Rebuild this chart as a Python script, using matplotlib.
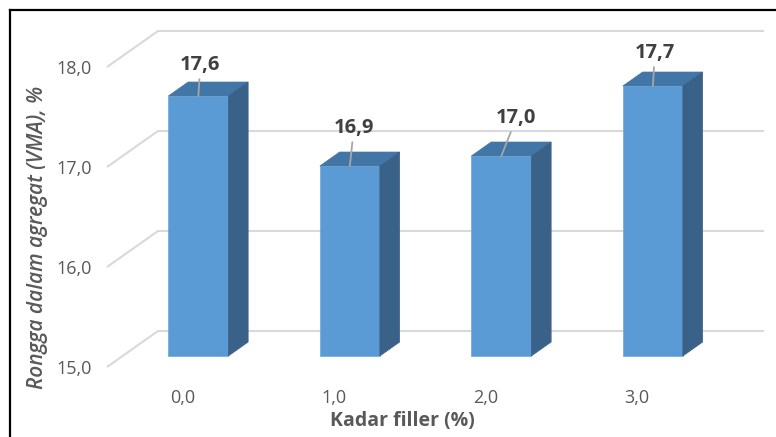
import matplotlib
matplotlib.use("Agg")
import matplotlib.pyplot as plt
from matplotlib.patches import Polygon
from matplotlib.lines import Line2D

# ---- data ----
categories = ["0,0", "1,0", "2,0", "3,0"]
values = [17.6, 16.9, 17.0, 17.7]
value_labels = ["17,6", "16,9", "17,0", "17,7"]
yticks = [15.0, 16.0, 17.0, 18.0]
ytick_labels = ["15,0", "16,0", "17,0", "18,0"]
xlabel = "Kadar filler (%)"
ylabel = "Rongga dalam agregat (VMA), %"

# ---- layout ----
W, H = 776, 437
plt.rcParams['font.family'] = ['Open Sans', 'DejaVu Sans']
fig = plt.figure(figsize=(W / 100, H / 100), dpi=100)

ax_left, ax_right, ax_bottom, ax_top = 107, 764, 367, 31   # pixels
ax = fig.add_axes([ax_left / W, 1 - ax_bottom / H,
                   (ax_right - ax_left) / W, (ax_bottom - ax_top) / H])

ymin = yticks[0]
DX, DY = 0.3366, 0.36          # full depth offset (data units)
f0, f1 = 0.306, 0.694          # bar front/back depth fractions
bar_w = 0.396
n = len(categories)
ax.set_xlim(-0.5, n - 0.5 + DX)
ax.set_ylim(ymin, yticks[-1] + DY)

grid_c = "#D9D9D9"
for v in yticks:
    ax.plot([-0.5, -0.5 + DX, n - 0.5 + DX], [v, v + DY, v + DY],
            color=grid_c, lw=1.5, zorder=1, clip_on=False,
            solid_capstyle='butt')

front_c = "#5B9BD5"
top_c = "#4276A6"
side_c = "#3A6188"
xs = [i + f0 * DX for i in range(n)]
base = ymin + f0 * DY
heights = [v - ymin for v in values]
ax.bar(xs, heights, width=bar_w, bottom=base, color=front_c, zorder=3,
       edgecolor="#6FA8DC", linewidth=0.5)

ddx, ddy = (f1 - f0) * DX, (f1 - f0) * DY
for x, v in zip(xs, values):
    xl, xr = x - bar_w / 2, x + bar_w / 2
    top = v + f0 * DY
    ax.add_patch(Polygon([(xl, top), (xr, top), (xr + ddx, top + ddy),
                          (xl + ddx, top + ddy)], closed=True,
                         facecolor=top_c, edgecolor=top_c, lw=0.5, zorder=3))
    ax.add_patch(Polygon([(xr, base), (xr + ddx, base + ddy),
                          (xr + ddx, top + ddy), (xr, top)], closed=True,
                         facecolor=side_c, edgecolor=side_c, lw=0.5, zorder=3))

# data labels with leader lines
label_offsets = [(2, 31), (4, 38), (15, 38), (2, 33)]   # pixels
for x, v, lab, (ox, oy) in zip(xs, values, value_labels, label_offsets):
    ax.annotate(lab, xy=(x, v + f0 * DY), xytext=(ox, oy),
                textcoords='offset pixels', ha='center', va='center',
                fontsize=14.5, fontweight='bold', color="#404040",
                arrowprops=dict(arrowstyle='-', color="#A6A6A6", lw=1.3,
                                shrinkA=1, shrinkB=0),
                zorder=5)

ax.set_yticks(yticks)
ax.set_yticklabels(ytick_labels)
ax.set_xticks(range(n))
ax.set_xticklabels(categories)
ax.tick_params(axis='both', length=0, labelsize=13, colors="#595959")
ax.tick_params(axis='y', pad=11)
ax.tick_params(axis='x', pad=16)
for s in ax.spines.values():
    s.set_visible(False)
ax.set_facecolor('none')

ax.set_xlabel(xlabel, fontsize=14, fontweight='bold', color="#595959")
ax.xaxis.set_label_coords((402 - ax_left) / (ax_right - ax_left),
                          (ax_bottom - 421) / (ax_bottom - ax_top))
ax.set_ylabel(ylabel, fontsize=15, fontstyle='italic', fontweight='semibold',
              color="#595959")
ax.yaxis.set_label_coords((37 - ax_left) / (ax_right - ax_left),
                          (ax_bottom - 237) / (ax_bottom - ax_top))
ax.xaxis.label.set_va('center')
ax.yaxis.label.set_va('center')

# outer border (left and top)
fig.add_artist(Line2D([10 / W, 10 / W], [0, 1 - 10 / H], color='black', lw=1.6,
                      transform=fig.transFigure))
fig.add_artist(Line2D([10 / W, 1], [1 - 10 / H, 1 - 10 / H], color='black', lw=1.6,
                      transform=fig.transFigure))

fig.savefig("out.png", dpi=100)
